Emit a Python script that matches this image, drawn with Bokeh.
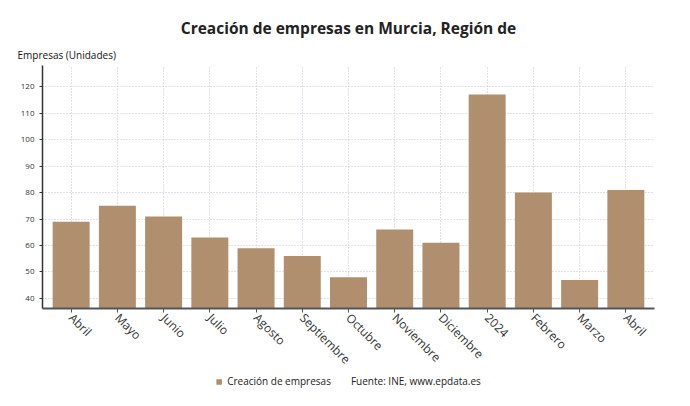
import math
from bokeh.plotting import figure
from bokeh.layouts import column
from bokeh.models import Legend, LegendItem, FixedTicker, Range1d, Title
from bokeh.embed import file_html
from bokeh.resources import INLINE

categories = ["Abril", "Mayo", "Junio", "Julio", "Agosto", "Septiembre", "Octubre",
              "Noviembre", "Diciembre", "2024", "Febrero", "Marzo", "Abril"]
values = [69, 75, 71, 63, 59, 56, 48, 66, 61, 117, 80, 47, 81]
y_ticks = [40, 50, 60, 70, 80, 90, 100, 110, 120]
series_name = "Creación de empresas"
title_text = "Creación de empresas en Murcia, Región de"
y_caption = "Empresas (Unidades)"
source_text = "Fuente: INE, www.epdata.es"

FONT = "Open Sans"
BAR = "#b08f6f"
TXT = "#333333"

xs = list(range(len(categories)))

p = figure(width=690, height=376, output_backend="svg", toolbar_location=None,
           x_range=Range1d(-0.62, len(categories) - 0.38), y_range=Range1d(36.2, 128),
           min_border_left=42, min_border_right=36, min_border_top=65, min_border_bottom=56)
p.outline_line_color = None

r = p.vbar(x=xs, top=values, bottom=0, width=0.8, fill_color=BAR, line_color=None)

p.xaxis.ticker = FixedTicker(ticks=xs)
p.xaxis.major_label_overrides = {i: c for i, c in enumerate(categories)}
p.xaxis.major_label_orientation = -math.pi / 4
p.xaxis.major_label_standoff = 3
p.xaxis.major_label_text_font = FONT
p.xaxis.major_label_text_font_size = "12px"
p.xaxis.major_label_text_color = TXT
p.xaxis.axis_line_color = "#555555"
p.xaxis.axis_line_width = 2
p.xaxis.major_tick_line_color = "#555555"
p.xaxis.major_tick_in = 0
p.xaxis.major_tick_out = 4
p.xaxis.minor_tick_line_color = None

p.yaxis.ticker = FixedTicker(ticks=y_ticks)
p.yaxis.major_label_text_font = FONT
p.yaxis.major_label_text_font_size = "8px"
p.yaxis.major_label_text_color = TXT
p.yaxis.axis_line_color = "#333333"
p.yaxis.axis_line_width = 1.5
p.yaxis.major_tick_line_color = "#333333"
p.yaxis.major_tick_in = 0
p.yaxis.major_tick_out = 3
p.yaxis.minor_tick_line_color = None

p.xgrid.grid_line_color = "#c4c0d6"
p.xgrid.grid_line_dash = "1 2"
p.ygrid.grid_line_color = "#c4c0d6"
p.ygrid.grid_line_dash = "1 2"

p.title.text = title_text
p.title.align = "center"
p.title.text_font = FONT
p.title.text_font_size = "15.5px"
p.title.text_font_style = "bold"
p.title.text_color = "#222222"
p.title.standoff = 6

p.add_layout(Title(text=y_caption, align="left", offset=-25, text_font=FONT,
                   text_font_size="10px", text_font_style="normal",
                   text_color="#111111", standoff=8), "above")

# footer with legend and source
f = figure(width=690, height=34, output_backend="svg", toolbar_location=None,
           x_range=Range1d(0, 1), y_range=Range1d(1000, 1001),
           min_border=0, x_axis_type=None, y_axis_type=None, margin=(-12, 0, 0, 0))
f.outline_line_color = None
f.background_fill_alpha = 0
f.border_fill_alpha = 0
f.xgrid.visible = False
f.ygrid.visible = False
proxy = f.vbar(x=xs, top=values, bottom=0, width=0.8, fill_color=BAR, line_color=None)
blank = f.vbar(x=xs, top=values, bottom=0, width=0.8, fill_alpha=0, line_alpha=0)

legend = Legend(items=[LegendItem(label=series_name, renderers=[proxy]),
                       LegendItem(label=source_text, renderers=[blank])],
                location="center", orientation="horizontal",
                label_text_font=FONT, label_text_font_size="10px", label_text_color="#222222",
                glyph_width=7, glyph_height=7, label_standoff=5, spacing=8,
                background_fill_alpha=0, border_line_color=None, padding=0, margin=0)
f.add_layout(legend)

layout = column(p, f, spacing=0)
open("out.html", "w").write(file_html(layout, INLINE))
